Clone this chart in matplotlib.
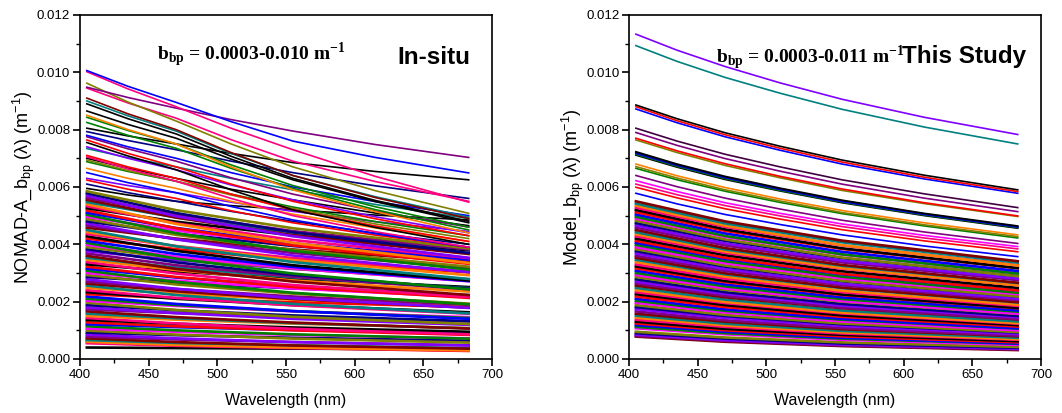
import numpy as np
import matplotlib
matplotlib.use("Agg")
import matplotlib.pyplot as plt
from matplotlib.ticker import MultipleLocator, FormatStrFormatter

plt.rcParams['font.family'] = ['Liberation Sans', 'DejaVu Sans']
plt.rcParams['mathtext.fontset'] = 'custom'
plt.rcParams['mathtext.rm'] = 'Liberation Sans'
plt.rcParams['mathtext.it'] = 'Liberation Sans:italic'
plt.rcParams['mathtext.bf'] = 'Liberation Serif:bold'

# wavelengths at which each spectrum is read (nm)
wl = [405, 470, 555, 683]
wl_top = [405, 435, 470, 510, 555, 615, 683]   # the separated upper spectra are read more finely

# bbp values in 1e-3 m^-1, one entry per spectrum, one list per wavelength
# --- in-situ (NOMAD) panel ---
insitu_405 = [10.06, 10.02, 9.48, 9.62, 9.45, 9.10, 9.00, 8.90, 8.65, 8.50, 8.43, 8.25, 8.05, 7.93, 7.80,
              7.75, 7.64, 7.55, 7.40, 7.34, 7.10, 7.05, 6.94, 6.88, 6.65, 6.50, 7.00, 6.24, 6.10, 6.30, 5.95,
              5.85, 5.78, 5.70, 5.62, 5.55, 5.47, 5.40, 5.33, 5.26, 5.18, 5.10, 5.03, 4.96, 4.88, 4.80, 4.73,
              4.66, 4.58, 4.50, 4.43, 4.36, 4.28, 4.20, 4.12, 4.05, 3.98, 3.90, 3.83, 3.76, 3.68, 3.60, 3.53,
              3.46, 3.38, 3.30, 3.22, 3.15, 3.08, 3.00, 2.93, 2.86, 2.78, 2.70, 2.63, 2.56, 2.48, 2.40, 2.33,
              2.26, 2.18, 2.10, 2.03, 1.96, 1.88, 1.80, 1.73, 1.66, 1.58, 1.50, 1.43, 1.36, 1.28, 1.21, 1.14,
              1.06, 0.99, 0.92, 0.85, 0.78, 0.72, 0.66, 0.60, 0.55, 0.40, 0.62]
insitu_470 = [8.95, 8.80, 8.75, 8.30, 8.40, 8.00, 7.95, 7.85, 7.70, 7.50, 7.50, 7.35, 7.50, 7.30, 7.00,
              6.90, 6.70, 6.60, 6.60, 6.70, 6.30, 6.20, 6.20, 6.20, 5.95, 5.80, 6.30, 5.60, 5.50, 5.80, 5.50,
              5.19, 5.09, 4.98, 5.04, 4.93, 4.94, 4.71, 4.73, 4.79, 4.56, 4.57, 4.39, 4.48, 4.33, 4.37, 4.17,
              4.18, 4.20, 3.93, 3.93, 3.94, 3.77, 3.83, 3.66, 3.50, 3.57, 3.52, 3.37, 3.45, 3.27, 3.14, 3.19,
              3.10, 2.98, 3.05, 2.86, 2.84, 2.69, 2.73, 2.60, 2.67, 2.45, 2.44, 2.36, 2.23, 2.28, 2.13, 2.10,
              2.12, 1.92, 1.88, 1.85, 1.71, 1.70, 1.60, 1.60, 1.46, 1.42, 1.37, 1.24, 1.23, 1.14, 1.11, 1.00,
              0.95, 0.85, 0.83, 0.72, 0.68, 0.59, 0.56, 0.49, 0.46, 0.38, 0.49]
insitu_555 = [7.60, 7.30, 7.95, 6.70, 6.90, 6.40, 6.40, 6.30, 6.25, 5.90, 6.05, 5.95, 6.85, 6.50, 6.00,
              5.75, 5.50, 5.20, 5.55, 5.90, 5.20, 5.00, 5.25, 5.30, 5.05, 4.85, 5.55, 4.75, 4.80, 5.15, 5.20,
              4.56, 4.42, 4.28, 4.46, 4.32, 4.41, 4.05, 4.15, 4.31, 3.96, 4.04, 3.77, 4.00, 3.80, 3.94, 3.61,
              3.70, 3.82, 3.38, 3.45, 3.52, 3.27, 3.44, 3.21, 2.98, 3.16, 3.15, 2.93, 3.14, 2.87, 2.70, 2.85,
              2.74, 2.58, 2.80, 2.51, 2.54, 2.31, 2.46, 2.28, 2.46, 2.12, 2.18, 2.09, 1.92, 2.07, 1.87, 1.88,
              1.98, 1.67, 1.67, 1.66, 1.47, 1.52, 1.40, 1.47, 1.27, 1.25, 1.23, 1.05, 1.10, 1.00, 1.01, 0.86,
              0.84, 0.71, 0.74, 0.59, 0.59, 0.47, 0.48, 0.40, 0.38, 0.36, 0.38]
insitu_683 = [6.49, 5.47, 7.03, 5.08, 5.50, 4.90, 4.95, 4.80, 4.75, 4.40, 4.60, 4.50, 6.25, 5.60, 5.00,
              4.60, 4.30, 4.00, 4.40, 4.90, 4.10, 3.90, 4.20, 4.30, 4.10, 3.90, 4.65, 3.90, 4.00, 4.45, 4.85,
              3.86, 3.70, 3.53, 3.82, 3.66, 3.83, 3.35, 3.52, 3.79, 3.32, 3.47, 3.12, 3.47, 3.22, 3.46, 3.03,
              3.17, 3.39, 2.79, 2.92, 3.05, 2.74, 3.02, 2.72, 2.43, 2.71, 2.73, 2.45, 2.78, 2.43, 2.23, 2.47,
              2.35, 2.16, 2.51, 2.13, 2.21, 1.91, 2.16, 1.93, 2.23, 1.78, 1.89, 1.79, 1.59, 1.84, 1.58, 1.63,
              1.81, 1.40, 1.43, 1.46, 1.22, 1.32, 1.19, 1.31, 1.06, 1.07, 1.08, 0.86, 0.95, 0.84, 0.90, 0.71,
              0.72, 0.57, 0.64, 0.47, 0.48, 0.36, 0.38, 0.30, 0.30, 0.34, 0.28]
# extra readings for the first (upper) in-situ spectra
insitu_top_435 = [9.51, 9.42, 9.12, 8.96, 8.93, 8.55, 8.48, 8.38, 8.18, 8.00, 7.97, 7.80, 7.78, 7.62, 7.40,
                  7.33, 7.17, 7.08, 7.00, 7.02, 6.70, 6.63, 6.57, 6.54, 6.30, 6.15, 6.65, 5.92, 5.80, 6.05, 5.72]
insitu_top_510 = [8.28, 8.05, 8.35, 7.50, 7.65, 7.20, 7.17, 7.07, 6.97, 6.70, 6.77, 6.65, 7.17, 6.90, 6.50,
                  6.32, 6.10, 5.90, 6.07, 6.30, 5.75, 5.60, 5.72, 5.75, 5.50, 5.32, 5.92, 5.17, 5.15, 5.47, 5.35]
insitu_top_615 = [7.03, 6.37, 7.48, 5.87, 6.19, 5.63, 5.66, 5.53, 5.49, 5.14, 5.31, 5.21, 6.54, 6.04, 5.49,
                  5.16, 4.89, 4.59, 4.96, 5.39, 4.64, 4.44, 4.71, 4.79, 4.57, 4.37, 5.09, 4.32, 4.39, 4.79, 5.02]

# --- model (this study) panel ---
model_405 = [11.33, 10.93, 8.86, 8.80, 8.72, 8.05, 7.90, 7.70, 7.64, 7.23, 7.20, 7.17, 7.14, 7.11, 6.80,
             6.71, 6.65, 6.40, 6.22, 6.10, 5.99, 5.78,
             5.50, 5.42, 5.35, 5.28, 5.20, 5.12, 5.04, 4.96, 4.90, 4.82, 4.74, 4.66, 4.58, 4.50, 4.42, 4.35,
             4.28, 4.20, 4.12, 4.05, 3.98, 3.90, 3.83, 3.76, 3.68, 3.60, 3.53, 3.46, 3.38, 3.30, 3.23, 3.16,
             3.08, 3.00, 2.93, 2.86, 2.78, 2.70, 2.63, 2.56, 2.48, 2.40, 2.33, 2.26, 2.18, 2.10, 2.03, 1.96,
             1.88, 1.81, 1.74, 1.66, 1.58, 1.51, 1.44, 1.37, 1.30, 1.24, 1.18, 1.12, 1.07, 0.95, 0.90, 0.85,
             0.81, 0.78]
model_470 = [10.20, 9.82, 7.89, 7.82, 7.75, 7.14, 6.99, 6.81, 6.75, 6.37, 6.34, 6.32, 6.29, 6.26, 5.98,
             5.90, 5.85, 5.61, 5.45, 5.35, 5.24, 5.04,
             4.80, 4.73, 4.65, 4.61, 4.52, 4.47, 4.38, 4.29, 4.26, 4.17, 4.12, 4.03, 3.96, 3.87, 3.82, 3.75,
             3.70, 3.62, 3.53, 3.49, 3.41, 3.34, 3.26, 3.22, 3.14, 3.07, 2.99, 2.95, 2.87, 2.80, 2.72, 2.68,
             2.60, 2.53, 2.46, 2.41, 2.33, 2.27, 2.20, 2.15, 2.07, 1.99, 1.95, 1.88, 1.81, 1.73, 1.68, 1.62,
             1.54, 1.50, 1.43, 1.35, 1.30, 1.23, 1.17, 1.12, 1.05, 1.00, 0.95, 0.90, 0.86, 0.75, 0.71, 0.66,
             0.63, 0.60]
model_555 = [9.06, 8.71, 6.94, 6.87, 6.80, 6.25, 6.10, 5.93, 5.88, 5.54, 5.52, 5.49, 5.47, 5.45, 5.18,
             5.11, 5.07, 4.84, 4.71, 4.62, 4.51, 4.33,
             4.13, 4.07, 3.97, 3.96, 3.86, 3.84, 3.74, 3.65, 3.64, 3.54, 3.52, 3.43, 3.37, 3.28, 3.25, 3.17,
             3.15, 3.06, 2.97, 2.95, 2.87, 2.81, 2.73, 2.71, 2.62, 2.57, 2.49, 2.47, 2.38, 2.33, 2.25, 2.23,
             2.15, 2.09, 2.02, 2.00, 1.92, 1.86, 1.79, 1.77, 1.69, 1.62, 1.59, 1.52, 1.47, 1.40, 1.37, 1.31,
             1.24, 1.21, 1.15, 1.08, 1.04, 0.98, 0.93, 0.89, 0.84, 0.79, 0.74, 0.71, 0.67, 0.58, 0.54, 0.50,
             0.47, 0.45]
model_683 = [7.83, 7.50, 5.90, 5.84, 5.78, 5.28, 5.14, 4.99, 4.97, 4.64, 4.62, 4.60, 4.58, 4.56, 4.33,
             4.27, 4.22, 4.03, 3.92, 3.84, 3.74, 3.57,
             3.41, 3.36, 3.26, 3.27, 3.17, 3.17, 3.07, 2.98, 2.99, 2.89, 2.89, 2.80, 2.75, 2.66, 2.65, 2.57,
             2.57, 2.48, 2.39, 2.39, 2.31, 2.26, 2.18, 2.18, 2.10, 2.05, 1.98, 1.97, 1.89, 1.85, 1.78, 1.77,
             1.69, 1.65, 1.58, 1.57, 1.50, 1.46, 1.39, 1.38, 1.31, 1.25, 1.23, 1.18, 1.13, 1.07, 1.06, 1.00,
             0.94, 0.92, 0.87, 0.81, 0.79, 0.74, 0.69, 0.67, 0.62, 0.58, 0.54, 0.53, 0.49, 0.42, 0.39, 0.36,
             0.33, 0.31]
# extra readings for the first (upper) model spectra
model_top_435 = [10.77, 10.38, 8.38, 8.31, 8.24, 7.60, 7.45, 7.26, 7.20, 6.80, 6.77, 6.75, 6.72, 6.69,
                 6.39, 6.31, 6.25, 6.01, 5.84, 5.73, 5.62, 5.41]
model_top_510 = [9.63, 9.27, 7.42, 7.35, 7.28, 6.70, 6.55, 6.37, 6.32, 5.96, 5.93, 5.91, 5.88, 5.86,
                 5.58, 5.51, 5.46, 5.23, 5.08, 4.99, 4.88, 4.69]
model_top_615 = [8.43, 8.09, 6.41, 6.34, 6.28, 5.76, 5.61, 5.45, 5.42, 5.08, 5.06, 5.04, 5.02, 5.00,
                 4.75, 4.68, 4.64, 4.43, 4.31, 4.22, 4.12, 3.94]

insitu_colors = ['blue', '#FF0080', '#800080', '#808000', '#FF0080', '#800000', '#008080', 'black', 'black',
                 '#FF8000', '#008000', '#008000', 'black', '#000080', 'blue', '#800080', 'red', 'black',
                 '#8000FF', '#008080', 'red', '#FF0080', '#808000', '#008000', '#FF8000', 'blue', 'black',
                 'red', '#000080', '#8000FF', 'black']
model_colors = ['#8000FF', '#008080', 'black', 'red', 'blue', '#400040', '#800080', 'red', '#808000',
                'black', '#000080', 'blue', '#008000', 'black', '#FF8000', '#808000', '#008000', '#800080',
                '#FF00FF', '#FF0080', 'red', 'blue']
cycle = ['black', 'red', 'blue', '#008000', '#FF00FF', '#808000', '#000080', '#8000FF',
         '#800080', '#800000', '#008080', '#FF8000', '#FF0080']

fig = plt.figure(figsize=(10.62, 4.13), dpi=100)
ax1 = fig.add_axes([0.0753, 0.1308, 0.388, 0.833])
ax2 = fig.add_axes([0.5923, 0.1308, 0.388, 0.833])


def draw(ax, cols, extra, top_colors):
    c405, c470, c555, c683 = cols
    e435, e510, e615 = extra
    n = len(c405)
    # dense band first, separated spectra on top
    for i in range(n - 1, -1, -1):
        if i < len(e435):
            x = wl_top
            y = [c405[i], e435[i], c470[i], e510[i], c555[i], e615[i], c683[i]]
            ax.plot(x, np.array(y) / 1000.0, color=top_colors[i], lw=1.2)
        else:
            y = [c405[i], c470[i], c555[i], c683[i]]
            ax.plot(wl, np.array(y) / 1000.0, color=cycle[i % len(cycle)], lw=1.9)


draw(ax1, [insitu_405, insitu_470, insitu_555, insitu_683],
     [insitu_top_435, insitu_top_510, insitu_top_615], insitu_colors)
draw(ax2, [model_405, model_470, model_555, model_683],
     [model_top_435, model_top_510, model_top_615], model_colors)

for ax in (ax1, ax2):
    ax.set_xlim(400, 700)
    ax.set_ylim(0, 0.012)
    ax.xaxis.set_major_locator(MultipleLocator(50))
    ax.xaxis.set_minor_locator(MultipleLocator(25))
    ax.yaxis.set_major_locator(MultipleLocator(0.002))
    ax.yaxis.set_minor_locator(MultipleLocator(0.001))
    ax.yaxis.set_major_formatter(FormatStrFormatter('%.3f'))
    ax.tick_params(which='major', direction='out', length=5, width=1.2, labelsize=9.5, pad=2)
    ax.tick_params(which='minor', direction='out', length=3, width=1.0)
    for s in ax.spines.values():
        s.set_linewidth(1.2)
    ax.set_xlabel('Wavelength (nm)', fontsize=11.5, labelpad=9)

ax1.set_ylabel('NOMAD-A_b$_{\\rm bp}$ (λ) (m$^{-1}$)', fontsize=13, labelpad=0)
ax2.set_ylabel('Model_b$_{\\rm bp}$ (λ) (m$^{-1}$)', fontsize=13, labelpad=0)

ax1.text(456, 0.01060, 'b$_{\\mathbf{bp}}$ = 0.0003-0.010 m$^{\\mathbf{-1}}$', family='Liberation Serif',
         fontweight='bold', fontsize=14, va='center', ha='left')
ax1.text(684, 0.01053, 'In-situ', fontsize=17.5, fontweight='bold', va='center', ha='right')

ax2.text(463, 0.01050, 'b$_{\\mathbf{bp}}$ = 0.0003-0.011 m$^{\\mathbf{-1}}$', family='Liberation Serif',
         fontweight='bold', fontsize=14, va='center', ha='left')
ax2.text(689, 0.01055, 'This Study', fontsize=17.5, fontweight='bold', va='center', ha='right')

fig.savefig('out.png', dpi=100)
